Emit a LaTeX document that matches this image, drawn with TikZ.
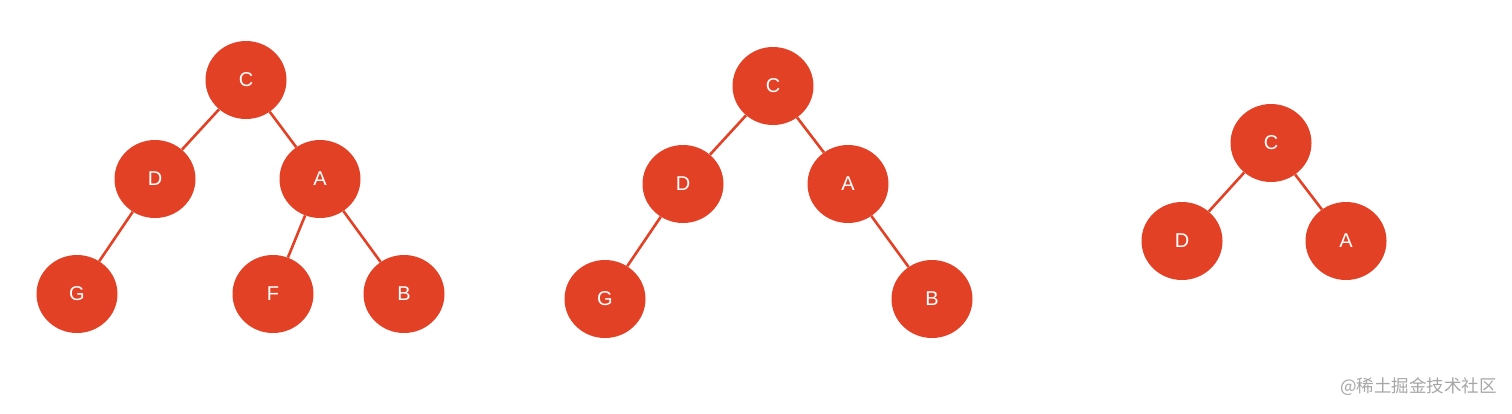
\documentclass[tikz,border=0pt]{standalone}
\usepackage{fontspec}
\setmainfont{Liberation Sans}
\newfontfamily\cjkfont{Noto Sans CJK SC}
\usetikzlibrary{shapes.geometric}
\definecolor{treered}{RGB}{227,65,38}
\begin{document}
\begin{tikzpicture}[x=1pt,y=-1pt]
      %%%%%%%%%%%%%%%%%%%%%%%%%%%%%%%%%%%%%%%%%%%%%%%%%%
      %% three trees
      %%%%%%%%%%%%%%%%%%%%%%%%%%%%%%%%%%%%%%%%%%%%%%%%%%
      \tikzstyle{tnode} = [ellipse, fill=treered, draw=none, minimum width=81pt, minimum height=78pt, inner sep=0pt, text=white, font=\fontsize{20}{20}\selectfont]
      \tikzstyle{tedge} = [draw=treered, line width=2.6pt]
      \useasboundingbox (0,0) rectangle (1512,413);
      % tree 1
      \node[tnode] (c1) at (246,80) {C};
      \node[tnode] (d1) at (155,179) {D};
      \node[tnode] (a1) at (320,179) {A};
      \node[tnode] (g1) at (77,294) {G};
      \node[tnode] (f1) at (273,294) {F};
      \node[tnode] (b1) at (404,294) {B};
      % tree 2
      \node[tnode] (c2) at (773,86) {C};
      \node[tnode] (d2) at (683,184) {D};
      \node[tnode] (a2) at (848,184) {A};
      \node[tnode] (g2) at (605,299) {G};
      \node[tnode] (b2) at (932,299) {B};
      % tree 3
      \node[tnode] (c3) at (1271,143) {C};
      \node[tnode] (d3) at (1182,241) {D};
      \node[tnode] (a3) at (1346,241) {A};
      \draw[tedge] (c1) -- (d1);
      \draw[tedge] (c1) -- (a1);
      \draw[tedge] (d1) -- (g1);
      \draw[tedge] (a1) -- (f1);
      \draw[tedge] (a1) -- (b1);
      \draw[tedge] (c2) -- (d2);
      \draw[tedge] (c2) -- (a2);
      \draw[tedge] (d2) -- (g2);
      \draw[tedge] (a2) -- (b2);
      \draw[tedge] (c3) -- (d3);
      \draw[tedge] (c3) -- (a3);
      \node[anchor=east, text=black!35, inner sep=0pt, font=\cjkfont\fontsize{17.5}{17.5}\selectfont] (mark) at (1497,387) {@稀土掘金技术社区};
\end{tikzpicture}
\end{document}
